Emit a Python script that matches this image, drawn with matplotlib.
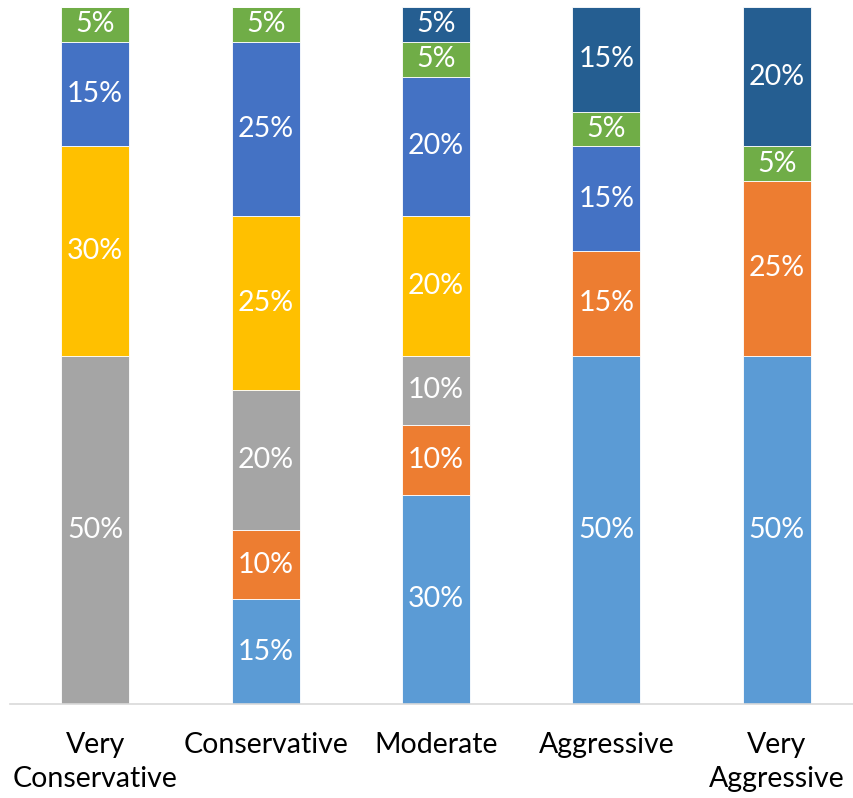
import matplotlib.pyplot as plt
import numpy as np

# Allocation profiles (percent of portfolio), bottom of stack first
profiles = ["Very\nConservative", "Conservative", "Moderate", "Aggressive", "Very\nAggressive"]
light_blue = [0, 15, 30, 50, 50]
orange = [0, 10, 10, 15, 25]
gray = [50, 20, 10, 0, 0]
yellow = [30, 25, 20, 0, 0]
blue = [15, 25, 20, 15, 0]
green = [5, 5, 5, 5, 5]
dark_blue = [0, 0, 5, 15, 20]

series = [light_blue, orange, gray, yellow, blue, green, dark_blue]
colors = ["#5B9BD5", "#ED7D31", "#A5A5A5", "#FFC000", "#4472C4", "#70AD47", "#255E91"]

plt.rcParams["font.family"] = ["Lato", "DejaVu Sans"]

fig = plt.figure(figsize=(8.54, 7.98), dpi=100)
ax = fig.add_axes([10 / 854, 94 / 798, 852 / 854, 697 / 798])

x = np.arange(len(profiles))
bottom = np.zeros(len(profiles))
for vals, col in zip(series, colors):
    vals = np.array(vals, dtype=float)
    ax.bar(x, vals, bottom=bottom, width=0.4, color=col, edgecolor="white", linewidth=0.6)
    for xi, v, b in zip(x, vals, bottom):
        if v > 0:
            ax.text(xi, b + v / 2, f"{int(v)}%", ha="center", va="center",
                    color="white", fontsize=20.5)
    bottom += vals

ax.set_xlim(-0.5, 4.5)
ax.set_ylim(0, 100)
ax.set_yticks([])
ax.set_xticks(x)
ax.set_xticklabels(profiles, fontsize=20.5, linespacing=1.4)
ax.tick_params(axis="x", length=0, pad=20)
for s in ["top", "right", "left"]:
    ax.spines[s].set_visible(False)
ax.spines["bottom"].set_color("#D9D9D9")
ax.spines["bottom"].set_linewidth(1.2)

fig.savefig("out.png", dpi=100)
